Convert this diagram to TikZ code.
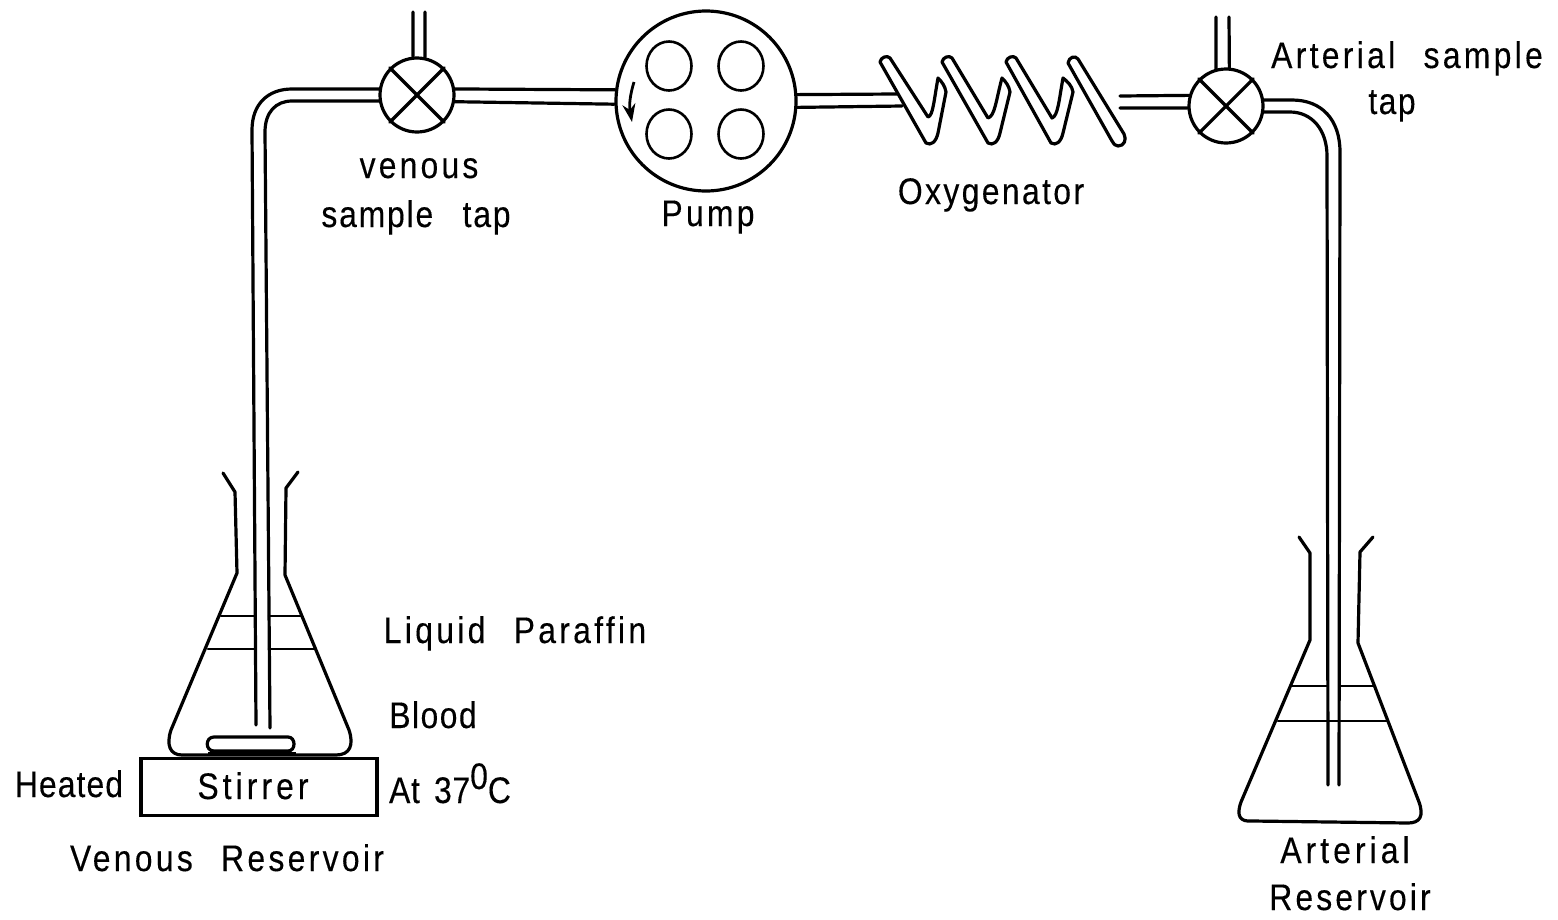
\documentclass[tikz,border=0pt]{standalone}
\usepackage{fontspec}
\setmainfont{Liberation Sans}[FakeStretch=0.86,FakeBold=0.25,WordSpace=2]
\newcommand{\ls}[1]{\addfontfeature{LetterSpace=#1}}
\tikzset{
  ln/.style={line width=3.2pt,line cap=round,line join=round,draw=black},
  thin ln/.style={line width=2.6pt,line cap=round,line join=round,draw=black},
  tapnode/.style={circle,draw=black,line width=3.2pt,minimum size=74pt,inner sep=0pt},
  pumpnode/.style={circle,draw=black,line width=3.2pt,minimum size=180pt,inner sep=0pt},
  lobe/.style={ellipse,draw=black,line width=2.6pt,minimum width=45pt,minimum height=49pt,inner sep=0pt},
  lbl/.style={inner sep=0pt,font=\fontsize{37}{44}\selectfont,text=black,anchor=base}
}
\usetikzlibrary{shapes.geometric,arrows.meta}
\begin{document}
\begin{tikzpicture}[x=1pt,y=-1pt]
\useasboundingbox (0,0) rectangle (1558,919);
\fill[white] (0,0) rectangle (1558,919);
% nodes
\node[tapnode] (vtap) at (417,95) {};
\node[tapnode] (atap) at (1226,106) {};
\node[pumpnode] (pump) at (706,101) {};
\node[lobe] (r1) at (669,66) {};
\node[lobe] (r2) at (741,66) {};
\node[lobe] (r3) at (669,134) {};
\node[lobe] (r4) at (741,134) {};
% tap crosses
\foreach \t in {vtap,atap}{
  \draw[ln] (\t.45) -- (\t.225);
  \draw[ln] (\t.135) -- (\t.315);
}
% top stubs
\coordinate (vt1) at (413,12); \coordinate (vt2) at (425,12);
\coordinate (at1) at (1216,17); \coordinate (at2) at (1229,17);
\draw[ln] (vt1) -- (vtap.96);
\draw[ln] (vt2) -- (vtap.78);
\draw[ln] (at1) -- (atap.105);
\draw[ln] (at2) -- (atap.85);
% left pipe
\coordinate (vb1) at (256,725); \coordinate (vb2) at (270,728);
\draw[ln] (vtap.171) -- (292,89) .. controls (268,89) and (252,104) .. (252,130) -- (vb1);
\draw[ln] (vtap.189) -- (292,101) .. controls (276,101) and (265,112) .. (265,132) -- (vb2);
% tap to pump
\draw[ln] (vtap.9) -- (pump.173);
\draw[ln] (vtap.-10) -- (pump.-178);
% pump to oxygenator
\coordinate (ox1) at (897,94); \coordinate (ox2) at (902,106);
\draw[ln] (pump.4) -- (ox1);
\draw[ln] (pump.-4) -- (ox2);
% pump arrow
\draw[line width=2.8pt,-{Stealth[length=18pt,width=13pt]}] (634,82) .. controls (630,95) and (629,105) .. (632,122);
% oxygenator
\draw[ln] (880,62) .. controls (881,57) and (887,55) .. (890,58) -- (928,117) .. controls (933,116) and (934,100) .. (938,78) .. controls (942,82) and (945,86) .. (946,92) -- (938,133) .. controls (936,142) and (931,146) .. (926,143) -- cycle;
\draw[ln] (942,62) .. controls (943,57) and (949,55) .. (952,58) -- (988,118) .. controls (995,116) and (996,100) .. (1002,78) .. controls (1006,82) and (1009,86) .. (1010,92) -- (1000,133) .. controls (998,142) and (993,146) .. (988,143) -- cycle;
\draw[ln] (1006,62) .. controls (1007,57) and (1013,55) .. (1016,58) -- (1052,118) .. controls (1058,116) and (1059,100) .. (1063,78) .. controls (1068,82) and (1072,86) .. (1073,92) -- (1063,133) .. controls (1061,142) and (1056,146) .. (1051,143) -- cycle;
\draw[ln] (1068,63) .. controls (1069,57) and (1075,55) .. (1078,59) -- (1124,134) .. controls (1127,140) and (1124,146) .. (1118,146) .. controls (1115,146) and (1114,144) .. (1112,141) -- cycle;
% oxygenator to arterial tap
\coordinate (ox3) at (1120,96); \coordinate (ox4) at (1120,108);
\draw[ln] (ox3) -- (atap.164);
\draw[ln] (ox4) -- (atap.183);
% right pipe
\coordinate (ab1) at (1328,785); \coordinate (ab2) at (1339,785);
\draw[ln] (atap.9) -- (1292,100) .. controls (1322,100) and (1340,120) .. (1340,152) -- (ab2);
\draw[ln] (atap.-9) -- (1290,112) .. controls (1312,112) and (1327,130) .. (1327,156) -- (ab1);
% venous flask
\draw[ln] (223,473) -- (235,492) -- (237,573) -- (171,730) .. controls (166,745) and (170,755) .. (182,755) -- (336,755) .. controls (350,755) and (354,745) .. (349,730) -- (285,575) -- (286,488) -- (298,472);
\draw[thin ln] (221,616) -- (255,616);
\draw[thin ln] (269,616) -- (301,616);
\draw[thin ln] (208,649) -- (255,649);
\draw[thin ln] (269,649) -- (314,649);
\draw[ln] (214,737) -- (288,737) .. controls (296,737) and (296,751) .. (288,751) -- (214,751) .. controls (205,751) and (205,737) .. (214,737) -- cycle;
\draw[line width=4.5pt] (208,754) -- (296,754);
% stirrer
\node[draw=black,line width=3.2pt,minimum width=236pt,minimum height=57pt,inner sep=0pt] (stir) at (259,787) {};
% arterial flask
\draw[ln] (1299,537) -- (1310,553) -- (1310,640) -- (1241,802) .. controls (1236,816) and (1240,822) .. (1252,821) -- (1408,823) .. controls (1420,823) and (1424,816) .. (1419,802) -- (1358,643) -- (1360,552) -- (1373,537);
\draw[thin ln] (1292,686) -- (1327,686);
\draw[thin ln] (1340,686) -- (1375,686);
\draw[thin ln] (1278,721) -- (1387,721);
% labels
\node[lbl] (t1) at (419,178) {\ls{8.7}venous};
\node[lbl] (t2) at (416,227) {\ls{5}sample\hspace{8pt} tap};
\node[lbl] (t3) at (708,226) {\ls{9}Pump};
\node[lbl] (t4) at (991,204) {\ls{6.5}Oxygenator};
\node[lbl] (t5) at (1407,68) {\ls{9}Arterial\hspace{4pt} sample};
\node[lbl] (t6) at (1392,114) {\ls{4}tap};
\node[lbl] (t7) at (515,643) {\ls{9}Liquid\hspace{4pt} Paraffin};
\node[lbl] (t8) at (433,728) {\ls{4}Blood};
\node[lbl] (t9) at (69,797) {\ls{3}Heated};
\node[lbl] (t10) at (253,799) {\ls{11}Stirrer};
\node[lbl] (t11) at (450,803) {\ls{2}At\hspace{-5pt} 37\raisebox{14pt}{0}C};
\node[lbl] (t12) at (227,871) {\ls{9}Venous\hspace{4pt} Reservoir};
\node[lbl] (t13) at (1345,863) {\ls{11}Arterial};
\node[lbl] (t14) at (1350,910) {\ls{8.5}Reservoir};
\end{tikzpicture}
\end{document}
